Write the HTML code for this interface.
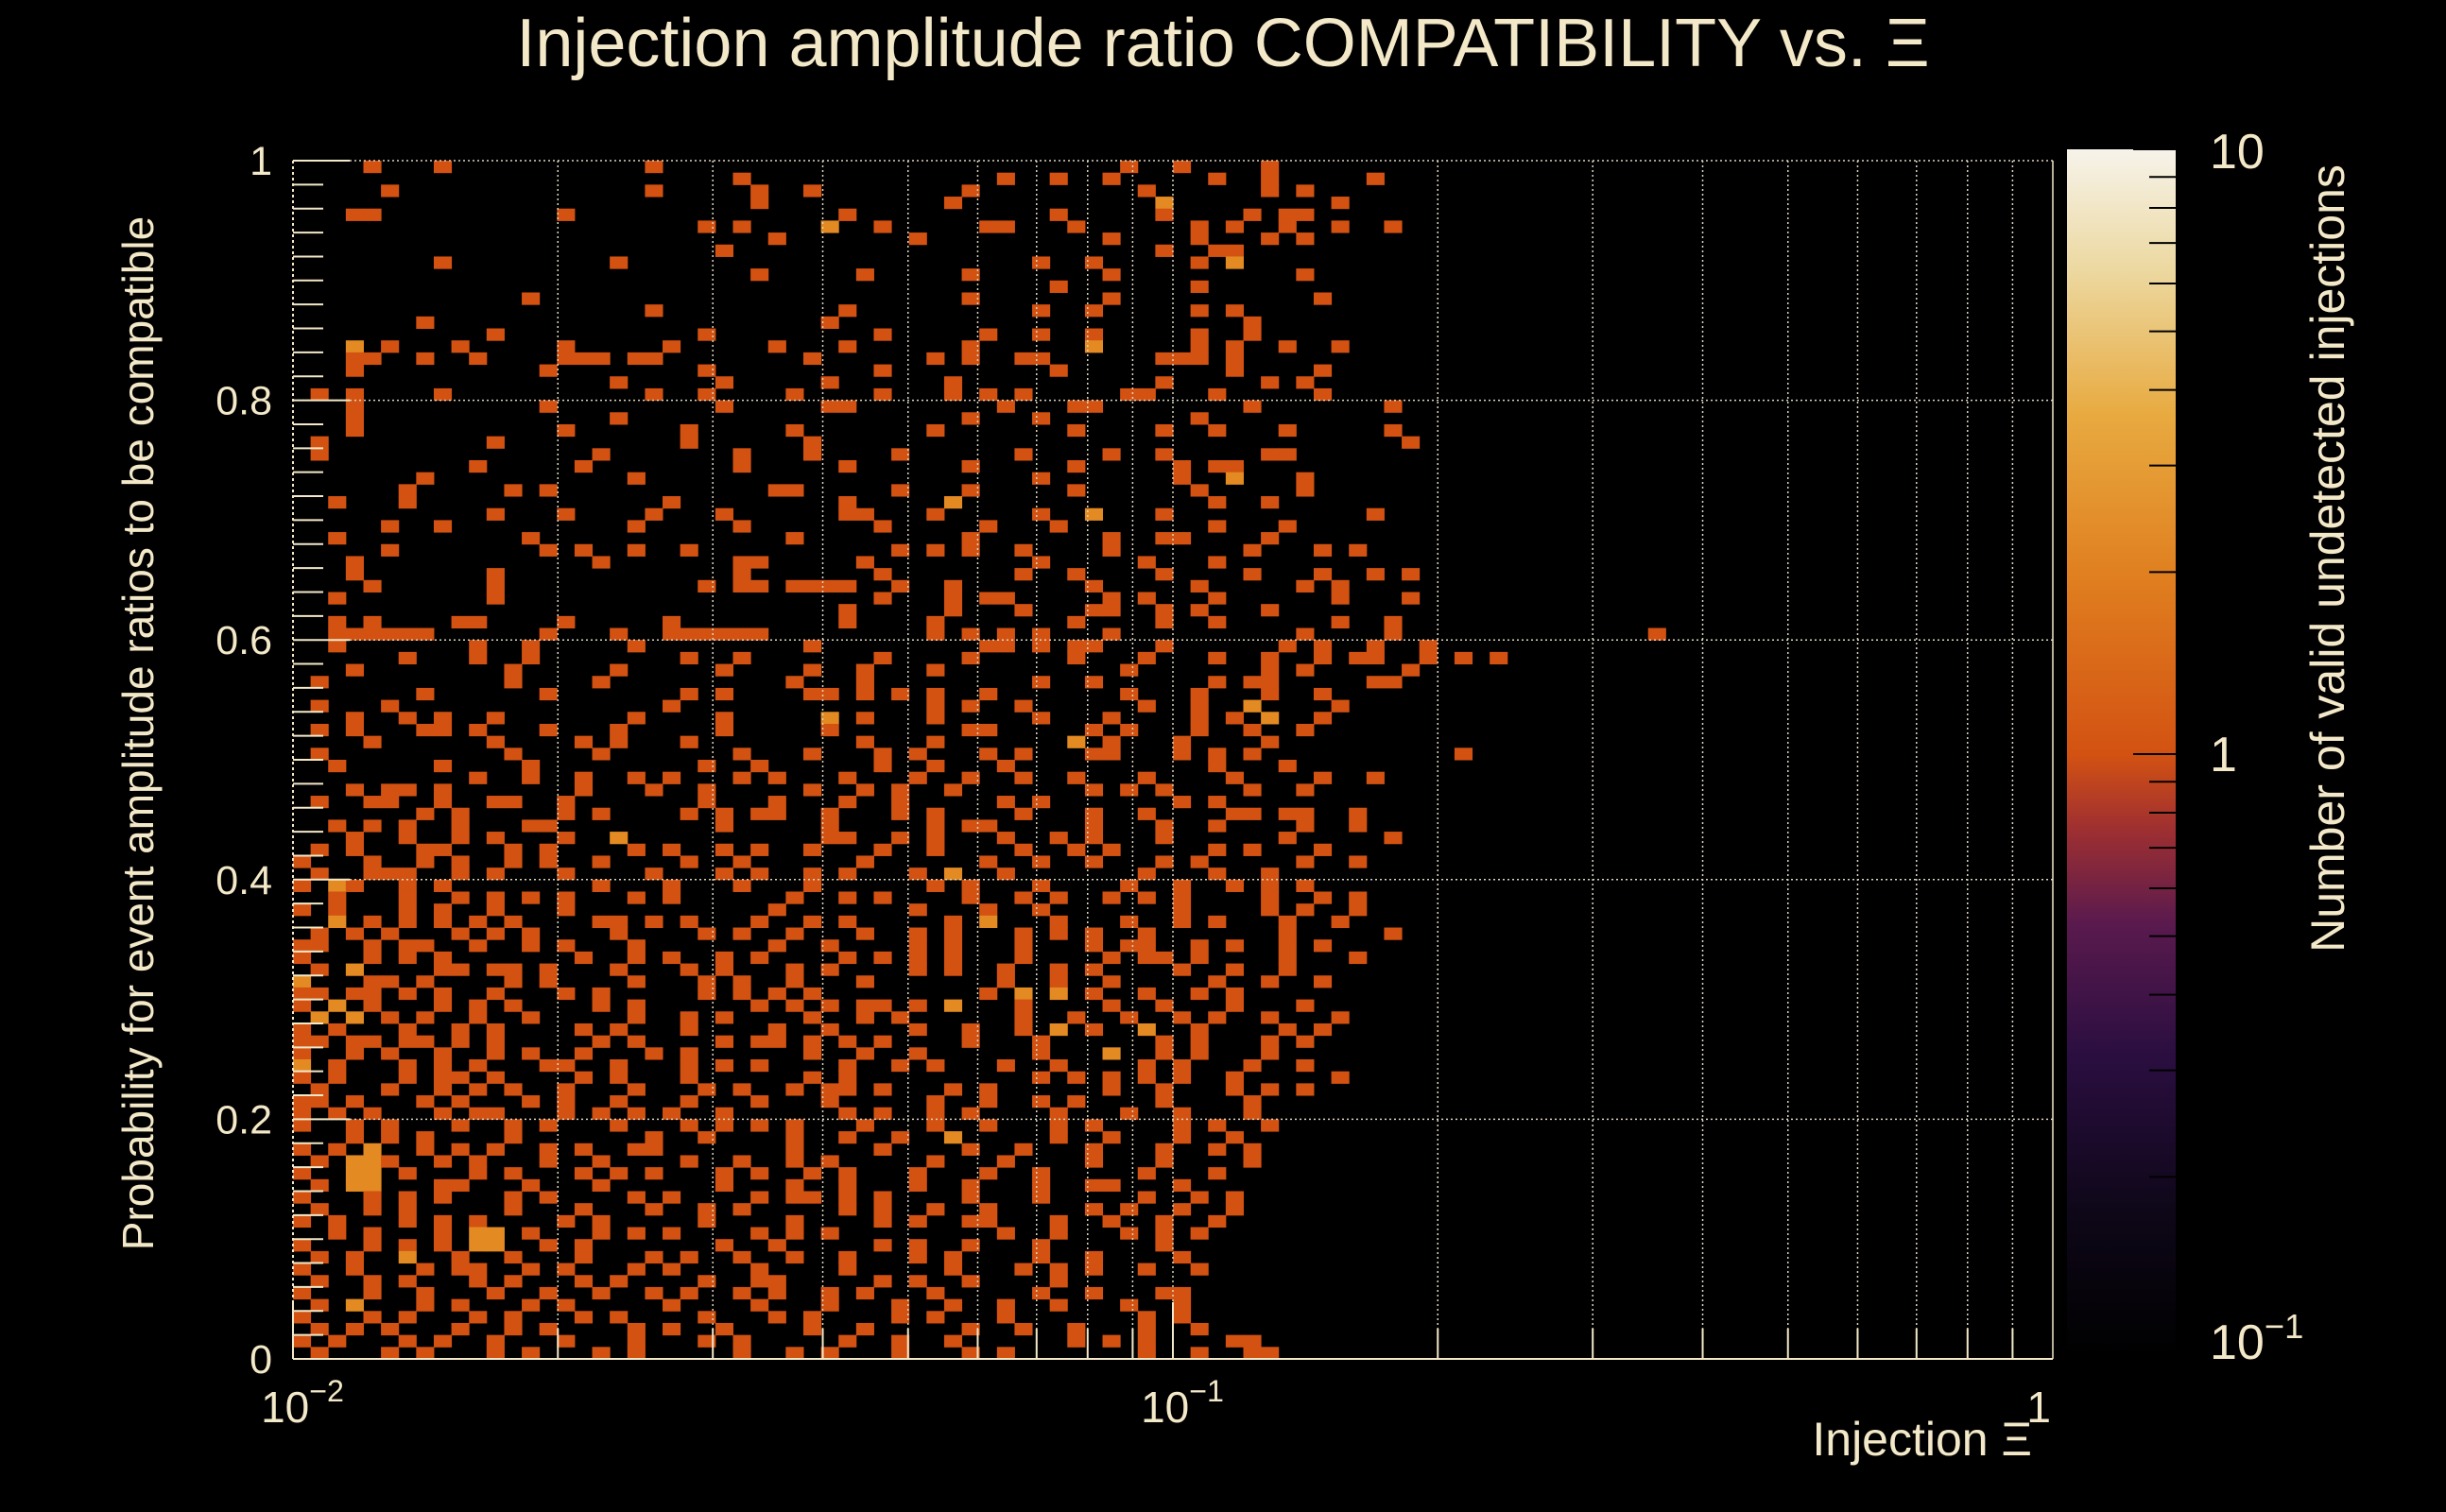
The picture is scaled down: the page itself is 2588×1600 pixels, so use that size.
<!DOCTYPE html>
<html><head><meta charset="utf-8"><style>
html,body{margin:0;padding:0;background:#000;}
body{width:2588px;height:1600px;overflow:hidden;font-family:"Liberation Sans",sans-serif;}
</style></head><body>
<svg id="chart" width="2588" height="1600" xmlns="http://www.w3.org/2000/svg" style="display:block;background:#000">
<defs>
<linearGradient id="cbg" x1="0" y1="1" x2="0" y2="0">
<stop offset="0" stop-color="#000000"/><stop offset="0.12" stop-color="#0e0718"/>
<stop offset="0.25" stop-color="#2a0e40"/><stop offset="0.36" stop-color="#5a1a4e"/>
<stop offset="0.44" stop-color="#a03030"/><stop offset="0.5" stop-color="#d35212"/>
<stop offset="0.65" stop-color="#e08020"/><stop offset="0.78" stop-color="#e8aa40"/>
<stop offset="0.9" stop-color="#ecd8a0"/><stop offset="1" stop-color="#f6f3ea"/>
</linearGradient>
</defs>
<g id="cells"></g>
<g id="grid"></g>
<g id="axes"></g>
<text x="1294" y="70" fill="#f3e8c8" font-size="72" text-anchor="middle">Injection amplitude ratio COMPATIBILITY vs.  Ξ</text>
<text x="2150" y="1540" fill="#f3e8c8" font-size="50" text-anchor="end">Injection Ξ</text>
<text transform="translate(162,776) rotate(-90)" fill="#f3e8c8" font-size="46" text-anchor="middle">Probability for event amplitude ratios to be compatible</text>
<rect x="2187" y="158" width="115" height="1280" fill="url(#cbg)"/>
<g id="cbax"></g>
<text transform="translate(2480,591) rotate(-90)" fill="#f3e8c8" font-size="50" text-anchor="middle">Number of valid undetected injections</text>
</svg>
<script>
const xMin = 0.01, xMax = 1, yMin = 0, yMax = 1;
const binsPerDecade = 50;
const yBinWidth = 0.01;
const xTickLabels = ["10^-2", "10^-1", "1"];
const yTickLabels = ["0", "0.2", "0.4", "0.6", "0.8", "1"];
const cbTickLabels = ["10^-1", "1", "10"];
// counts grid: row 0 = top bin (y 0.99-1.00); column 0 = x bin starting at 0.01
const countRows = [
"....1...1...........1..........................1..1....1........",
".........................1..............1..1..1.....1..1.....1..",
".....1..............1.....1..1........1.........1......1.1......",
"..........................1..........1...........2.........1....",
"...11..........1...............1...........1.....1....1.11......",
".......................1.1....2..1.....11...1......1.1..1..1..1.",
"...........................1.......1..........1....1...1.1......",
"........................1........................1..11..........",
"........1.........1.......................1..1.....1.2..........",
"..........................1.....1.....1.......1..........1......",
"...........................................1.......1............",
".............1........................1.......1...........1.....",
"....................1..........1..........1..1.....1.1..........",
".......1......................1.......................1.........",
"...........1...........1.........1.....1..1..1.....1..1.........",
"...2.1...1.....1.....1.....1...1......1......2.....1.1..1..1....",
"...11..1..1....111.11........1......1.1..11......111.1.........",
"...1..........1........1.........1.........1.........1....1.....",
"..................1.....1.....1......1...........1.....1.1......",
".1.1....1...........1..1....1....1...1.1.1.....11...1.....1.....",
"...1..........1.........1.....11........1...11........1.......1..",
"...1..............1...................1...1........1.............",
"...1...........1......1.....1.......1.......1....1..1...1.....1..",
".1.........1..........1......1.................................1.",
".1...............1.......1...1....1......1....1..1.....11.......",
"..........1.....1........1.....1......1.....1.....1.11..........",
".......1...........1......................1.......1..2...1......",
"......1.....1.1............11.....1...1.....1......1.....1.......",
"..1...1..............1.........1.....2..............1..1........",
"...........1...1....1...1......11...1.....1..2...1...........1..",
".....1..1..........1.....1.......1.....1...1........1...1........",
"..1..........1..............1.........1.......1..11....1..........",
".....1........1.1..1..1...........1.1.1..1....1.......1...1.1....",
"...1.............1.......11.....1.........1.....1...1..........",
"...1.......1.............1.......1.......1..1....1....1...1..1.1..",
"....1......1...........1.11.1111..1..1.......1.....1.....1.1....",
"..1........1.....................1...1.11.....1.1...1......1...1..",
"...............................1.....1...1...11..1.1...1...........",
"..1.1....11....1.....1.........1....1.......1....1..1......1..1....",
"..111111......1...1..111111.........1.1.1.1...1..........1....1..............1",
"..1.......1..1.....1.........1.........11.1.11...1......1.1..1..1.",
"......1...1..1........1..1.......1....1.....1...1...1..1..1.11..1.1.1",
"...1........1.....1.....1....1..1...1..........1.......1.1.....1....",
".1..........1....1..........1...1.........1..1......1.11.....11....",
".......1......1.......1.1....11.1.1.1..1.......1...1...1..1.......",
".1...1...............1..............1.1..1......1..1..2....1.......",
"...1..1.1..1.......1....1.....2.1...1.....1...1....1.1.2..1.......",
".1.1...11.1...1...1.....1.....1.......11.....1.1...1..1..1.........",
"....1......1....1.1...1.........1...1.......2.1...1....1.........",
".1..........1....1.......1...1...1.1...1.1...11...1.1.1...........1",
"..1.....1....1.........1..1......1..1...1...........1...1.........",
"..........1..1..1..1.1...1.1...1...1..1..1..1...1....1....1..1.....",
"...1.11.1.......1...1..1.....1..1.1..1.......1.1.1....1..1.........",
".1..11..1..11..1.......1...1...1..1.....1.1.......1.1..............",
".......1.1.....1.1....1.1.11..1...1.1....1...1..1....11.11..1.....",
"..1.1.1..1...11.........1.....1.....1.11.....1...1..1....1..1.....",
"...1..1..1.1...1..2...........11..1.1...1..1.1...1......1.....1...",
".1.1...11...1.1....1.1..1.1..1...1..1....1..1.1.....1.1...1.......",
"1...1..1.1..1.1..1....1..1......1......1..1..1...1.1.....1..1.....",
".1..111..1.1...1....1...1.1..1.1...1.2..1.......1...1..1.........",
"1.21..1.1........1...1...1...1......1.1...1....1..1..1.1.1........",
"..1...1..1.1.1.1...1.1......1..1.1....1..1.1..1.1.1....1..1.1....",
"1.1...1.1..1...1...........1.......1...1..1.......1....1.1..1.....",
"..2.1.1.1.1.1....11.1.1...1..1.1.....1.2...1...1..1.1...1..1......",
".1.1.1...1.1.1....1....1.1..1...1..1.1...1.1.1..1.......1.....1...",
"11..1.11..1..1.1...1.......1..1....1.1...1...1.11..1.1..1.1.......",
"1...1.1.1.......1..1.1..1.1....1.1.1.1...1....1.11.1....1...1.....",
".1.2....11.11.1...1...1.1...1.1....1.1..1..1.1....1..1..1..........",
"2...11.1....1.1....1...1.1..1...1.......1..1..1.....1..1..1.......",
"11.11.1.1..1...1.1.....1.1.1.1.........1.2.2.1..1..1.1...........",
"1.2.1...1.1.1....1.1......1.1.1.11.1.2...1....1..1...1...1.........",
".2.2.1.1..1..1.....1..1.1....1..1.1......1..1..1..1.1..1...1......",
"1.1...1..1.1....1.1...1....1..1....1..1..1.2.1..2..1....1.1........",
"11.11.11.1.1.....1.1....1.11.1.1.1....1...1......1.1...1.1.......",
"1..1.1..1..1.1..1...1.1......1..1..1......1...2..1.1...1...........",
"2.1...1.1.1...11..1...1.1.1....1..1.1...1..1....1.1...1..1........",
"1.1...1.11.1....1.1...1......1.1..........1.1.1.1.1..1.....1......",
".1...1..1.1.1..1...1...1.1..1.11.1...1.1......1..1...1.1.1........",
"11.1...1.1...1.1..1...1...1...1.....1..1..1.1....1....1...........",
"1.1.1...1.11...1.1.1.1..1......1.1..1.1....1...1..1...1...........",
"1..1.1...1..1.1...1...1.1.1.1...1...1..1...1.1....1.1..1.........",
"...1.1.1....1.......1..1....1..1..1..2.....1..1...1..1............",
"1.1.2..1.1.1..1.1..11.......1....1....1..1...1...1..1.1...........",
".1.221..1.1...1..1....1..1..1.1.....1...1....1...1....1...........",
"1..22.1...1.1...1.1.1...1.1..1.1...1...1..1.....1...1.............",
".1.22...11...1...1......1...1..1...1..1...1..11...1...............",
"1...1.1.1...1.1....1.1....1.11.1.1....1...1.....1..1.1............",
".1..1.1.....1...1...1..1.1.....1.1..1..1.....1.1..1..1............",
"1.1...1.1.1....1.1.....1....1....1.1..11...1..1..1..1.............",
"..1.1...1.22.1...1.1.1....1.1.1.........1..1...1.1.1..............",
"1...1.1.1.22..1.1.......1..1.....1.1..1...1......1................",
".1.1..2..1..1...1...1.1..1..1..1...1.1....1..1....1...............",
"1..1...1.11..1.1...1.1....1....1.....1...1.1.1..1..1..............",
".1..1.1...1.1...1.1....1..11.....1.1..1....1......................",
"1...1..1...1..1..1..1.1..1.1..1.1...1.....1..1...11...............",
".1.2...1.1...1.1.....1....1...1...1..1..1..1...1..1...............",
"1...1.1...1.1...1.1....1...1.1....1.1...1.......1.1...............",
".1.1.1...1..1.1....1.1..1....1..1.....1..1..1...1..1..............",
"1.1...1.1..1...1...1...1.1.....1..1..1......1.1.1....11...........",
".1...1.1...1.1...1.1.....1..1.1...1...1.1.......1..1..11.........."
];
const NS="http://www.w3.org/2000/svg";
const PL=310, PR=2172, PT=170, PB=1438;
function sx(v){return PL+(Math.log10(v)-Math.log10(xMin))/(Math.log10(xMax)-Math.log10(xMin))*(PR-PL);}
function sy(v){return PB-(v-yMin)/(yMax-yMin)*(PB-PT);}
function colorFor(c){return c>=3?"#e8b143":(c>=2?"#e38a22":"#d35212");}
function mk(tag,attrs,parent){const e=document.createElementNS(NS,tag);for(const k in attrs)e.setAttribute(k,attrs[k]);parent.appendChild(e);return e;}
const cells=document.getElementById('cells');
countRows.forEach((row,ri)=>{
  const y0=yMax-(ri+1)*yBinWidth;
  for(let ci=0;ci<row.length;ci++){
    const ch=row[ci]; if(ch==='.')continue;
    const c=parseInt(ch,10);
    const xa=xMin*Math.pow(10,ci/binsPerDecade), xb=xMin*Math.pow(10,(ci+1)/binsPerDecade);
    const r=mk('rect',{x:sx(xa),y:sy(y0+yBinWidth),width:sx(xb)-sx(xa)+0.5,height:sy(y0)-sy(y0+yBinWidth)+0.5,fill:colorFor(c)},cells);
    
    
  }
});
const grid=document.getElementById('grid'), axes=document.getElementById('axes');
const gstyle={stroke:"#dcd6c0","stroke-width":1.5,"stroke-dasharray":"2,3"};
for(let d=-2; d<0; d++){ for(let m=1;m<10;m++){ const v=m*Math.pow(10,d); const x=sx(v);
  if(v>xMin) mk('line',Object.assign({x1:x,x2:x,y1:PT,y2:PB},gstyle),grid);
  mk('line',{x1:x,x2:x,y1:PB,y2:PB-(m===1?60:32),stroke:"#f3e8c8","stroke-width":2},axes);
}}
yTickLabels.forEach((lab,i)=>{
  const v=parseFloat(lab), y=sy(v);
  if(v>0) mk('line',Object.assign({x1:PL,x2:PR,y1:y,y2:y},gstyle),grid);
  const t=mk('text',{x:PL-22,y:y+15,fill:"#f3e8c8","font-size":43,"text-anchor":"end"},axes); t.textContent=lab;
  
  
});
for(let k=0;k<=50;k++){const v=k*0.02; const y=sy(v); mk('line',{x1:PL,x2:PL+(k%10===0?60:32),y1:y,y2:y,stroke:"#f3e8c8","stroke-width":2},axes);}
mk('line',{x1:PL,x2:PR,y1:PB,y2:PB,stroke:"#f3e8c8","stroke-width":2},axes);
mk('line',{x1:PL,x2:PL,y1:PT,y2:PB,stroke:"#f3e8c8","stroke-width":2,"stroke-dasharray":"3,3"},axes);
mk('line',{x1:PR,x2:PR,y1:PT,y2:PB,stroke:"#f3e8c8","stroke-width":1.5},axes);
function tickLabel(lab,x,y,anchor,parent,name,fs){
  const t=mk('text',{x:x,y:y,fill:"#f3e8c8","font-size":fs,"text-anchor":anchor},parent);
  if(lab.indexOf('^')>=0){const p=lab.split('^'); t.textContent=p[0]; const s=mk('tspan',{dy:-22,"font-size":fs*0.7},t); s.textContent=p[1].replace('-','−');}
  else t.textContent=lab;
  
  
}
xTickLabels.forEach((lab,i)=>{ const v=Math.pow(10,-2+i); tickLabel(lab, sx(v)+(i===2?-2:10), 1505, i===2?"end":"middle", axes, 'x-tick-label', 46); });
const cb=document.getElementById('cbax'); const CT=158, CB=1438, CX=2302;
function cy(v){return CB-(Math.log10(v)+1)/2*(CB-CT);}
for(let d=-1;d<1;d++){for(let m=1;m<10;m++){const v=m*Math.pow(10,d); mk('line',{x1:CX,x2:CX-(m===1?45:28),y1:cy(v),y2:cy(v),stroke:"#000","stroke-width":2},cb);}}
mk('line',{x1:CX,x2:CX-45,y1:cy(10),y2:cy(10),stroke:"#000","stroke-width":2},cb);
cbTickLabels.forEach((lab,i)=>{ const v=Math.pow(10,-1+i); tickLabel(lab, 2338, cy(v)+(i===0?0:i===2?20:18), "start", cb, 'colorbar-tick-label', 52); });
</script>
</body></html>
